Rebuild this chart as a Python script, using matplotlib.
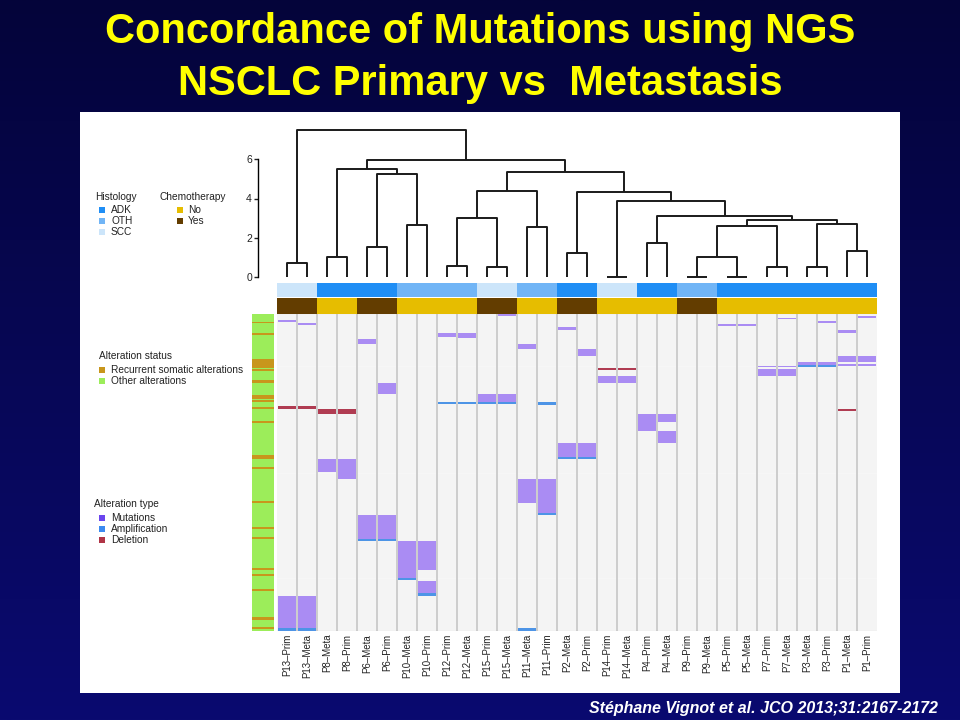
import numpy as np
import matplotlib
matplotlib.use("Agg")
import matplotlib.pyplot as plt
from matplotlib.patches import Rectangle
from matplotlib.colors import LinearSegmentedColormap

plt.rcParams['font.family'] = ['Liberation Sans', 'DejaVu Sans']

# ---------------- data ----------------
samples = ["P13–Prim", "P13–Meta", "P8–Meta", "P8–Prim", "P6–Meta", "P6–Prim",
           "P10–Meta", "P10–Prim", "P12–Prim", "P12–Meta", "P15–Prim", "P15–Meta",
           "P11–Meta", "P11–Prim", "P2–Meta", "P2–Prim", "P14–Prim", "P14–Meta",
           "P4–Prim", "P4–Meta", "P9–Prim", "P9–Meta", "P5–Prim", "P5–Meta",
           "P7–Prim", "P7–Meta", "P3–Meta", "P3–Prim", "P1–Meta", "P1–Prim"]

histology = ["SCC", "SCC", "ADK", "ADK", "ADK", "ADK", "OTH", "OTH", "OTH", "OTH",
             "SCC", "SCC", "OTH", "OTH", "ADK", "ADK", "SCC", "SCC", "ADK", "ADK",
             "OTH", "OTH", "ADK", "ADK", "ADK", "ADK", "ADK", "ADK", "ADK", "ADK"]

chemotherapy = ["Yes", "Yes", "No", "No", "Yes", "Yes", "No", "No", "No", "No",
                "Yes", "Yes", "No", "No", "Yes", "Yes", "No", "No", "No", "No",
                "Yes", "Yes", "No", "No", "No", "No", "No", "No", "No", "No"]

# dendrogram merges (left node, right node, height); leaves are columns 0..29
linkage = [
    (0, 1, 0.71), (2, 3, 1.02), (4, 5, 1.53), (6, 7, 2.65), (8, 9, 0.56),
    (10, 11, 0.51), (12, 13, 2.55), (14, 15, 1.22), (16, 17, 0.02), (18, 19, 1.73),
    (20, 21, 0.02), (22, 23, 0.02), (24, 25, 0.51), (26, 27, 0.51), (28, 29, 1.33),
    (32, 33, 5.26), (31, 45, 5.51), (34, 35, 3.00), (47, 36, 4.38), (40, 41, 1.02),
    (49, 42, 2.60), (43, 44, 2.70), (50, 51, 2.90), (39, 52, 3.10), (38, 53, 3.88),
    (37, 54, 4.35), (48, 55, 5.36), (46, 56, 5.97), (30, 57, 7.50),
]

n_genes = 160

# alterations: (sample, first row, last row) in gene-row units (0 = top)
mutations = [
    ("P13–Prim", 2.8, 3.8), ("P13–Meta", 4.5, 5.5), ("P6–Meta", 12.5, 15.0),
    ("P6–Prim", 34.8, 40.2), ("P12–Prim", 9.7, 11.5), ("P12–Meta", 9.7, 12.3),
    ("P15–Meta", 0.2, 1.0), ("P11–Meta", 15.0, 17.5), ("P2–Meta", 6.4, 8.1),
    ("P15–Prim", 40.2, 44.3), ("P15–Meta", 40.2, 44.3), ("P8–Meta", 73.0, 79.9),
    ("P8–Prim", 73.0, 83.3), ("P2–Prim", 17.7, 21.0), ("P14–Prim", 31.4, 34.7),
    ("P14–Meta", 31.4, 34.7), ("P4–Prim", 50.5, 58.9), ("P4–Meta", 50.5, 54.7),
    ("P4–Meta", 59.2, 64.9), ("P2–Meta", 65.3, 72.0), ("P2–Prim", 65.3, 72.0),
    ("P5–Prim", 5.2, 6.2), ("P5–Meta", 5.2, 6.2), ("P7–Meta", 1.9, 2.7),
    ("P3–Prim", 3.7, 4.5), ("P1–Meta", 8.1, 9.7), ("P1–Prim", 1.0, 1.9),
    ("P7–Prim", 26.0, 27.0), ("P7–Meta", 26.0, 27.0),
    ("P7–Prim", 27.9, 31.3), ("P7–Meta", 27.9, 31.3),
    ("P3–Meta", 24.4, 25.6), ("P3–Prim", 24.4, 25.6),
    ("P1–Meta", 21.2, 24.2), ("P1–Prim", 21.2, 24.2),
    ("P1–Meta", 25.3, 26.1), ("P1–Prim", 25.3, 26.1),
    ("P11–Meta", 83.4, 95.5), ("P11–Prim", 83.4, 100.6),
    ("P6–Meta", 101.6, 113.7), ("P6–Prim", 101.6, 113.7),
    ("P10–Meta", 114.7, 133.4), ("P10–Prim", 114.7, 129.2),
    ("P10–Prim", 134.6, 141.0),
    ("P13–Prim", 142.3, 158.6), ("P13–Meta", 142.3, 158.6),
]

amplifications = [
    ("P12–Prim", 44.3, 45.3), ("P12–Meta", 44.3, 45.3),
    ("P15–Prim", 44.3, 45.3), ("P15–Meta", 44.3, 45.3),
    ("P11–Prim", 44.4, 46.1), ("P2–Meta", 72.0, 73.0), ("P2–Prim", 72.0, 73.0),
    ("P3–Meta", 25.6, 26.9), ("P3–Prim", 25.6, 26.9),
    ("P11–Prim", 100.6, 101.6), ("P6–Meta", 113.7, 114.7), ("P6–Prim", 113.7, 114.7),
    ("P10–Meta", 133.4, 134.4), ("P10–Prim", 141.0, 142.3),
    ("P13–Prim", 158.6, 159.8), ("P13–Meta", 158.6, 159.8),
    ("P11–Meta", 158.6, 159.8),
]

deletions = [
    ("P13–Prim", 46.4, 47.8), ("P13–Meta", 46.4, 47.8),
    ("P8–Meta", 47.8, 50.3), ("P8–Prim", 47.8, 50.3),
    ("P14–Prim", 27.1, 28.1), ("P14–Meta", 27.1, 28.1),
    ("P1–Meta", 47.8, 48.8),
]

# alteration status: rows that are recurrent somatic alterations
recurrent_rows = [
    (3.9, 4.7), (9.7, 10.6), (22.9, 27.1), (27.9, 28.8), (33.3, 34.8),
    (41.0, 42.8), (43.4, 44.3), (46.8, 47.9), (53.9, 54.9), (71.3, 73.0),
    (77.2, 78.2), (94.5, 95.5), (107.7, 108.5), (112.4, 113.7), (128.4, 129.4),
    (131.1, 132.1), (138.8, 139.6), (152.8, 154.3), (157.9, 159.0),
]

dendro_ticks = [0, 2, 4, 6]

# ---------------- styles ----------------
hist_colors = {"ADK": "#1f8ef5", "OTH": "#71b5f6", "SCC": "#cce5fa"}
chemo_colors = {"No": "#e6bd00", "Yes": "#633d00"}
alt_cell_colors = {"Mutations": "#aa8cf3", "Amplification": "#4d94e6", "Deletion": "#b03c52"}
alt_leg_colors = {"Mutations": "#6a45ee", "Amplification": "#3b8af0", "Deletion": "#b03446"}
status_colors = {"Recurrent somatic alterations": "#c8961c", "Other alterations": "#9ced5a"}

W, H = 960, 720
fig = plt.figure(figsize=(9.6, 7.2), dpi=100)


def fx(x):
    return x / W


def fy(y):
    return 1 - y / H


# background gradient + white panel
bg = fig.add_axes([0, 0, 1, 1], zorder=-10)
grad = np.linspace(0, 1, 256).reshape(-1, 1)
cm_bg = LinearSegmentedColormap.from_list("bg", ["#04043a", "#0a0a70"])
bg.imshow(grad, aspect="auto", cmap=cm_bg, extent=[0, 1, 0, 1], origin="upper")
bg.add_patch(Rectangle((fx(80), fy(693)), fx(900) - fx(80), fy(112) - fy(693),
                       facecolor="white", edgecolor="none"))
bg.set_xlim(0, 1)
bg.set_ylim(0, 1)
bg.axis("off")

# title
fig.text(0.5, fy(32), "Concordance of Mutations using NGS", color="#ffff00",
         fontsize=30, fontweight="bold", ha="center", va="center")
fig.text(0.5, fy(84), "NSCLC Primary vs  Metastasis", color="#ffff00",
         fontsize=30, fontweight="bold", ha="center", va="center")
fig.text(fx(938), fy(709), "Stéphane Vignot et al. JCO 2013;31:2167-2172",
         color="white", fontsize=11.5, fontweight="bold", fontstyle="italic",
         ha="right", va="center")

ncol = len(samples)
col_index = {s: i for i, s in enumerate(samples)}
xl = (-0.5, ncol - 0.5)

# ---------------- dendrogram ----------------
axd = fig.add_axes([fx(277), fy(277), fx(877) - fx(277), fy(120) - fy(277)])
pos = {i: (float(i), 0.0) for i in range(ncol)}
for k, (a, b, h) in enumerate(linkage):
    xa, ha = pos[a]
    xb, hb = pos[b]
    axd.plot([xa, xa, xb, xb], [ha, h, h, hb], color="#1a1a1a", lw=1.4,
             solid_capstyle="butt", clip_on=False)
    pos[ncol + k] = ((xa + xb) / 2, h)
axd.set_xlim(*xl)
axd.set_ylim(0, 8)
axd.patch.set_alpha(0)
for s in ["top", "right", "bottom"]:
    axd.spines[s].set_visible(False)
axd.spines["left"].set_position(("outward", 13.5))
axd.spines["left"].set_bounds(0, 6)
axd.spines["left"].set_linewidth(1.0)
axd.set_xticks([])
axd.set_yticks(dendro_ticks)
axd.tick_params(axis="y", length=3, width=1, labelsize=7.5, pad=1.5, colors="#222222")

# ---------------- annotation bars ----------------
axh = fig.add_axes([fx(277), fy(297.3), fx(877) - fx(277), fy(282.7) - fy(297.3)])
axh.bar(range(ncol), 1, width=1.0, color=[hist_colors[h] for h in histology])
axc = fig.add_axes([fx(277), fy(313.5), fx(877) - fx(277), fy(298.3) - fy(313.5)])
axc.bar(range(ncol), 1, width=1.0, color=[chemo_colors[c] for c in chemotherapy])
for a in (axh, axc):
    a.set_xlim(*xl)
    a.set_ylim(0, 1)
    a.axis("off")

# ---------------- heatmap ----------------
axm = fig.add_axes([fx(277), fy(631), fx(877) - fx(277), fy(314) - fy(631)])
axm.set_facecolor("#f1f1f1")
axm.hlines(np.arange(1, n_genes), xl[0], xl[1], color="white", lw=0.35, zorder=1)
axm.vlines(np.arange(0.5, ncol - 0.5, 1), 0, n_genes, color="#c9c9c9", lw=1.3, zorder=2)
for name, lst in (("Mutations", mutations), ("Amplification", amplifications),
                  ("Deletion", deletions)):
    xs = [col_index[s] for s, a, b in lst]
    hs = [b - a for s, a, b in lst]
    bs = [a for s, a, b in lst]
    axm.bar(xs, hs, bottom=bs, width=0.94, color=alt_cell_colors[name],
            edgecolor="none", zorder=3)
axm.set_xlim(*xl)
axm.set_ylim(n_genes, 0)
for s in axm.spines.values():
    s.set_visible(False)
axm.set_yticks([])
axm.set_xticks(range(ncol))
axm.set_xticklabels(samples, rotation=90, fontsize=7, color="#222222")
axm.tick_params(axis="x", length=0, pad=2)

# status column
axs = fig.add_axes([fx(252.5), fy(631), fx(274) - fx(252.5), fy(314) - fy(631)])
axs.set_facecolor(status_colors["Other alterations"])
axs.bar([0.5] * len(recurrent_rows), [b - a for a, b in recurrent_rows],
        bottom=[a for a, b in recurrent_rows], width=1.0,
        color=status_colors["Recurrent somatic alterations"], edgecolor="none")
axs.set_xlim(0, 1)
axs.set_ylim(n_genes, 0)
axs.set_xticks([])
axs.set_yticks([])
for s in axs.spines.values():
    s.set_visible(False)

# ---------------- legends ----------------
LFS = 7.3


def legend_block(title, x_title, y_title, x_sq, x_lab, ys, labels, colors):
    fig.text(fx(x_title), fy(y_title), title, fontsize=LFS, color="#222222",
             ha="left", va="center")
    for y, lab in zip(ys, labels):
        bg.add_patch(Rectangle((fx(x_sq), fy(y + 3)), 6 / W, 6 / H,
                               facecolor=colors[lab], edgecolor="none"))
        fig.text(fx(x_lab), fy(y), lab, fontsize=LFS, color="#222222",
                 ha="left", va="center")


legend_block("Histology", 95, 197, 99, 111, [210, 221, 232],
             ["ADK", "OTH", "SCC"], hist_colors)
legend_block("Chemotherapy", 159, 197, 177, 188, [210, 221],
             ["No", "Yes"], chemo_colors)
legend_block("Alteration status", 99, 356, 99, 111, [370, 381],
             ["Recurrent somatic alterations", "Other alterations"], status_colors)
legend_block("Alteration type", 94, 504, 99, 111, [518, 529, 540],
             ["Mutations", "Amplification", "Deletion"], alt_leg_colors)

fig.savefig("out.png", dpi=100)
